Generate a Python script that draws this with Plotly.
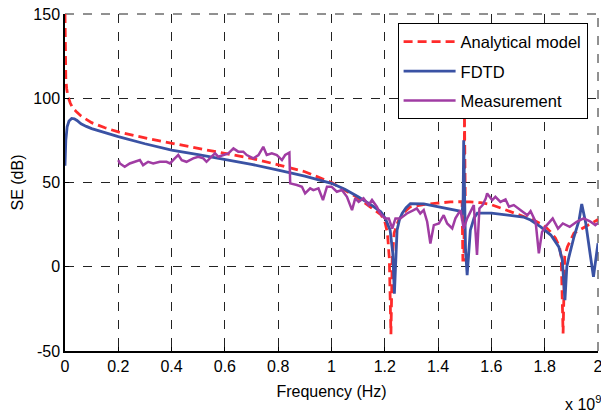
import plotly.graph_objects as go

# Frequency in units of 1e9 Hz
analytical_x = [0, 0.001, 0.003, 0.006, 0.011, 0.02, 0.03, 0.043, 0.06, 0.08, 0.1, 0.15, 0.2, 0.3, 0.4,
                0.5, 0.6, 0.7, 0.8, 0.9, 1.0, 1.05, 1.1, 1.15, 1.185, 1.2, 1.21, 1.217, 1.223, 1.228,
                1.235, 1.25, 1.27, 1.296, 1.35, 1.396, 1.446, 1.49, 1.493, 1.497, 1.499, 1.502, 1.52,
                1.56, 1.6, 1.65, 1.71, 1.76, 1.796, 1.82, 1.84, 1.855, 1.862, 1.869, 1.875, 1.885, 1.91,
                1.96, 2.0]
analytical_y = [150, 125, 112, 106, 101, 97, 94, 92, 89.5, 87.5, 85.5, 82.5, 80, 76.5, 73.2,
                70.2, 67.3, 64.3, 60.5, 56.4, 50, 45.5, 40.8, 35, 31, 27, 20, 5, -40, 5,
                20, 27, 32, 35.6, 37, 37.7, 38.5, 38.6, 4, 4, 90, 38.5, 38.5,
                38, 36.8, 34, 30.6, 27.5, 24.7, 21, 17, 12, 6, -39.6, 6, 11.8, 20,
                24.7, 28]

fdtd_x = [0, 0.003, 0.008, 0.015, 0.025, 0.035, 0.045, 0.06, 0.08, 0.1, 0.15, 0.2, 0.3, 0.4, 0.5,
          0.6, 0.7, 0.8, 0.9, 1.0, 1.05, 1.1, 1.15, 1.185, 1.202, 1.22, 1.23, 1.236, 1.241, 1.246,
          1.255, 1.265, 1.28, 1.296, 1.346, 1.396, 1.44, 1.477, 1.49, 1.494, 1.496, 1.499, 1.503,
          1.509, 1.515, 1.521, 1.535, 1.547, 1.6, 1.672, 1.72, 1.747, 1.785, 1.823, 1.853, 1.866,
          1.876, 1.883, 1.891, 1.91, 1.929, 1.939, 1.954, 1.972, 1.983, 1.998, 2.0]
fdtd_y = [60, 75, 83, 86.5, 88, 87.8, 86.8, 84.8, 83.3, 82, 79.6, 77.2, 73, 69.2, 66.5,
          63.7, 60.8, 57.4, 53.8, 49.5, 46, 41.5, 36.6, 32.6, 28.7, 21.7, 8, -16, 5, 21.7,
          28, 31.6, 35, 37.5, 37.3, 35.6, 34.5, 33.2, 31.8, 40, 75, 40, 10,
          -5, 10, 21.7, 29, 31.8, 31.8, 30.6, 29.5, 27.7, 23.7, 18.8, 11.8, 4,
          -19.8, 0, 5.9, 17.8, 27.7, 37.2, 25.9, 5.9, -6, 11.8, 14]

meas_x = [0.2, 0.206, 0.224, 0.243, 0.262, 0.281, 0.293, 0.312, 0.331, 0.356, 0.381, 0.394, 0.412,
          0.425, 0.438, 0.456, 0.481, 0.5, 0.519, 0.531, 0.55, 0.563, 0.575, 0.594, 0.613, 0.632,
          0.65, 0.669, 0.682, 0.707, 0.726, 0.744, 0.757, 0.776, 0.795, 0.814, 0.826, 0.842, 0.845,
          0.87, 0.889, 0.901, 0.92, 0.932, 0.951, 0.968, 0.983, 1.0, 1.02, 1.039, 1.058, 1.077,
          1.089, 1.102, 1.12, 1.139, 1.152, 1.17, 1.183, 1.2, 1.215, 1.228, 1.24, 1.258, 1.283,
          1.308, 1.32, 1.333, 1.346, 1.359, 1.371, 1.384, 1.403, 1.421, 1.434, 1.453, 1.465, 1.484,
          1.496, 1.509, 1.521, 1.534, 1.546, 1.555, 1.567, 1.579, 1.584, 1.603, 1.615, 1.634,
          1.653, 1.666, 1.684, 1.71, 1.735, 1.747, 1.766, 1.778, 1.79, 1.808, 1.83, 1.85, 1.868,
          1.894, 1.92, 1.946, 1.97, 1.99, 2.0]
meas_y = [63.3, 61.3, 59.3, 61.3, 62.3, 63.3, 60.3, 62.3, 61.3, 62.3, 62.3, 61.3, 64.3,
          66.3, 63.3, 62.3, 64.3, 65.3, 64.3, 62.3, 65.3, 67.3, 65.3, 66.3, 67.3, 70.2,
          68.3, 68.3, 66.3, 64.3, 66.3, 71.2, 66.3, 67.3, 66.3, 63.3, 66.3, 67.7, 49.5,
          48.5, 47.5, 43.5, 46.5, 45.5, 46.5, 39.6, 47.5, 47.5, 44.5, 45.5, 41.5, 33.6,
          40.6, 38.5, 40.6, 36.6, 39.6, 35.6, 31.6, 28.7, 28.7, 22.7, 28.7, 28.7, 31.6,
          33.6, 34.6, 31.6, 33.6, 26.7, 13.8, 24.7, 25.7, 30.6, 25.7, 22.7, 28.7, 33.6,
          22.7, 28.7, 32.6, 36.6, 7, 34.6, 36.6, 40.6, 43.5, 39.6, 41.5, 38.5,
          40, 35.6, 36.6, 33.6, 30.6, 33, 26.7, 8, 20.7, 24.7, 28.7, 22.7, 25.7,
          23.7, 26.7, 28.7, 27, 24.7, 26]

x_ticks = [0, 0.2, 0.4, 0.6, 0.8, 1.0, 1.2, 1.4, 1.6, 1.8, 2.0]
x_tick_labels = ["0", "0.2", "0.4", "0.6", "0.8", "1", "1.2", "1.4", "1.6", "1.8", "2"]
y_ticks = [-50, 0, 50, 100, 150]
y_tick_labels = ["-50", "0", "50", "100", "150"]

FONT = "Liberation Sans, Arial, sans-serif"

fig = go.Figure()
fig.add_trace(go.Scatter(x=analytical_x, y=analytical_y, mode="lines", name="Analytical model",
                         legendgroup="a",
                         line=dict(color="#ff2b2b", width=2.8, dash="9px,5px")))
fig.add_trace(go.Scatter(x=fdtd_x, y=fdtd_y, mode="lines", name="FDTD", legendgroup="b",
                         line=dict(color="#3a52a4", width=2.8)))
fig.add_trace(go.Scatter(x=meas_x, y=meas_y, mode="lines", name="Measurement", legendgroup="c",
                         line=dict(color="#a03ca3", width=2.5)))

fig.update_layout(
    width=601, height=415,
    margin=dict(l=65, r=3, t=14, b=64),
    paper_bgcolor="white", plot_bgcolor="white",
    font=dict(family=FONT, size=16, color="black"),
    showlegend=True,
    legend=dict(x=0.624, y=0.972, xanchor="left", yanchor="top",
                bgcolor="white", bordercolor="black", borderwidth=1,
                font=dict(family=FONT, size=16.5, color="black"),
                tracegroupgap=5, itemwidth=52),
    xaxis=dict(range=[0, 2], tickvals=x_ticks, ticktext=x_tick_labels, automargin=False,
               showgrid=True, gridcolor="#222", gridwidth=1, griddash="dash",
               showline=True, linecolor="black", linewidth=1.5, mirror=False,
               ticks="inside", ticklen=4, tickcolor="black", zeroline=False,
               ticklabeloverflow="allow",
               title=dict(text="Frequency (Hz)", standoff=12, font=dict(size=16))),
    yaxis=dict(range=[-50, 150], tickvals=y_ticks, ticktext=y_tick_labels, automargin=False,
               showgrid=True, gridcolor="#222", gridwidth=1, griddash="dash",
               showline=True, linecolor="black", linewidth=1.5, mirror=False,
               ticks="inside", ticklen=4, tickcolor="black", zeroline=False,
               ticklabeloverflow="allow",
               title=dict(text="SE (dB)", standoff=6, font=dict(size=16))),
)

# grid lines at the top and right edges of the axes box (as in the original)
fig.add_shape(type="line", xref="paper", yref="paper", x0=0, x1=1, y0=1, y1=1,
              line=dict(color="#222", width=1, dash="dash"), layer="below")
fig.add_shape(type="line", xref="paper", yref="paper", x0=1, x1=1, y0=0, y1=1,
              line=dict(color="#222", width=1, dash="dash"), layer="below")

fig.add_annotation(text="x 10<sup>9</sup>", xref="paper", yref="paper", x=1.01, y=-0.12,
                   xanchor="right", yanchor="top", showarrow=False,
                   font=dict(family=FONT, size=16, color="black"))

fig.write_html("out.html", config={"displayModeBar": False},
               post_script="document.body.style.margin='0';")
